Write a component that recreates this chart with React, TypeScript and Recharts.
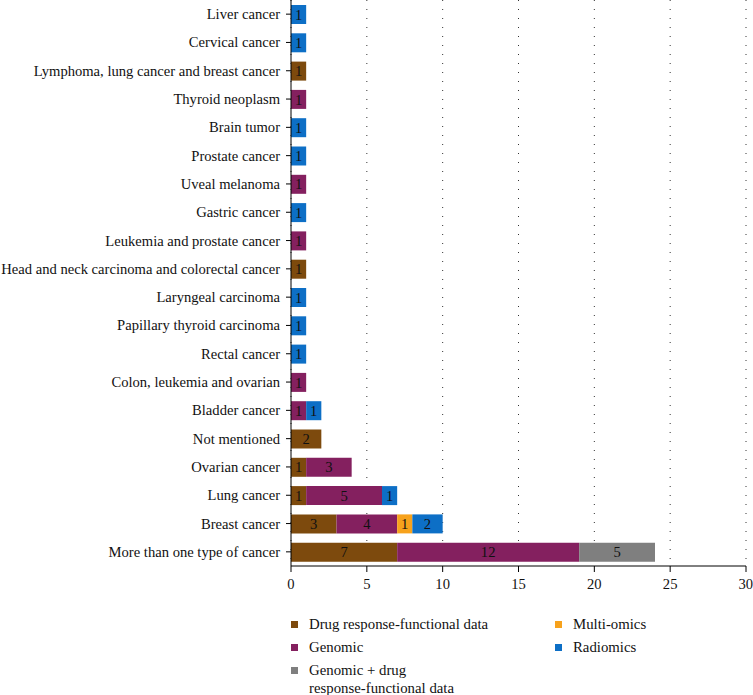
import { BarChart, Bar, XAxis, YAxis, CartesianGrid, LabelList } from "recharts";

const categories = [
  "Liver cancer",
  "Cervical cancer",
  "Lymphoma, lung cancer and breast cancer",
  "Thyroid neoplasm",
  "Brain tumor",
  "Prostate cancer",
  "Uveal melanoma",
  "Gastric cancer",
  "Leukemia and prostate cancer",
  "Head and neck carcinoma and colorectal cancer",
  "Laryngeal carcinoma",
  "Papillary thyroid carcinoma",
  "Rectal cancer",
  "Colon, leukemia and ovarian",
  "Bladder cancer",
  "Not mentioned",
  "Ovarian cancer",
  "Lung cancer",
  "Breast cancer",
  "More than one type of cancer",
];

const drugResponse = [0, 0, 1, 0, 0, 0, 0, 0, 0, 1, 0, 0, 0, 0, 0, 2, 1, 1, 3, 7];
const genomic = [0, 0, 0, 1, 0, 0, 1, 0, 1, 0, 0, 0, 0, 1, 1, 0, 3, 5, 4, 12];
const multiOmics = [0, 0, 0, 0, 0, 0, 0, 0, 0, 0, 0, 0, 0, 0, 0, 0, 0, 0, 1, 0];
const radiomics = [1, 1, 0, 0, 1, 1, 0, 1, 0, 0, 1, 1, 1, 0, 1, 0, 0, 1, 2, 0];
const genomicDrug = [0, 0, 0, 0, 0, 0, 0, 0, 0, 0, 0, 0, 0, 0, 0, 0, 0, 0, 0, 5];

const xTicks = [0, 5, 10, 15, 20, 25, 30];

const series = [
  { key: "drug", name: "Drug response-functional data", color: "#7d4a0d", values: drugResponse },
  { key: "genomic", name: "Genomic", color: "#84205f", values: genomic },
  { key: "multi", name: "Multi-omics", color: "#f7a21c", values: multiOmics },
  { key: "radiomics", name: "Radiomics", color: "#0d6fc6", values: radiomics },
  { key: "genDrug", name: "Genomic + drug response-functional data", color: "#7f7f7f", values: genomicDrug },
];

const data = categories.map((name, i) => {
  const row: Record<string, string | number> = { name };
  series.forEach((s) => {
    row[s.key] = s.values[i];
  });
  return row;
});

const font = "Liberation Serif, DejaVu Serif, serif";

const showValue = (v: any) => (v ? v : "");

function CategoryTick(props: any) {
  const { x, y, payload } = props;
  return (
    <text x={x} y={y} dy={5} textAnchor="end" fill="#111" fontSize={14.6} fontFamily={font}>
      {payload.value}
    </text>
  );
}

function LegendItem({ color, children, x, y }: { color: string; children: any; x: number; y: number }) {
  return (
    <div style={{ position: "absolute", left: x, top: y, display: "flex", alignItems: "flex-start" }}>
      <span style={{ width: 7, height: 7, background: color, marginTop: 6, marginRight: 11, flex: "none" }} />
      <span style={{ fontSize: 14.8, lineHeight: "18px", color: "#111" }}>{children}</span>
    </div>
  );
}

export default function App() {
  return (
    <div style={{ position: "relative", width: 753, height: 695, fontFamily: font, background: "#fff" }}>
      <style>{"body{margin:0}"}</style>
      <BarChart
        width={753}
        height={600}
        data={data}
        layout="vertical"
        margin={{ top: 0, right: 7, bottom: 0, left: 0 }}
        barSize={19}
      >
        <CartesianGrid horizontal={false} stroke="#333" strokeDasharray="1 8" />
        <XAxis
          type="number"
          domain={[0, 30]}
          ticks={xTicks}
          height={34}
          tickSize={6}
          tickMargin={7}
          axisLine={{ stroke: "#000" }}
          tickLine={{ stroke: "#000" }}
          tick={{ fill: "#111", fontSize: 14.6, fontFamily: font }}
        />
        <YAxis
          type="category"
          dataKey="name"
          width={291}
          interval={0}
          tickSize={5}
          tickMargin={6}
          axisLine={{ stroke: "#000" }}
          tickLine={{ stroke: "#000" }}
          tick={<CategoryTick />}
        />
        {series.map((s) => (
          <Bar key={s.key} dataKey={s.key} name={s.name} stackId="a" fill={s.color} isAnimationActive={false}>
            <LabelList
              dataKey={s.key}
              position="center"
              formatter={showValue}
              fill="#111"
              fontSize={14.6}
              fontFamily={font}
            />
          </Bar>
        ))}
      </BarChart>
      <LegendItem color={series[0].color} x={291} y={615}>{series[0].name}</LegendItem>
      <LegendItem color={series[2].color} x={555} y={615}>{series[2].name}</LegendItem>
      <LegendItem color={series[1].color} x={291} y={638}>{series[1].name}</LegendItem>
      <LegendItem color={series[3].color} x={555} y={638}>{series[3].name}</LegendItem>
      <LegendItem color={series[4].color} x={291} y={661}>
        Genomic + drug
        <br />
        response-functional data
      </LegendItem>
    </div>
  );
}
